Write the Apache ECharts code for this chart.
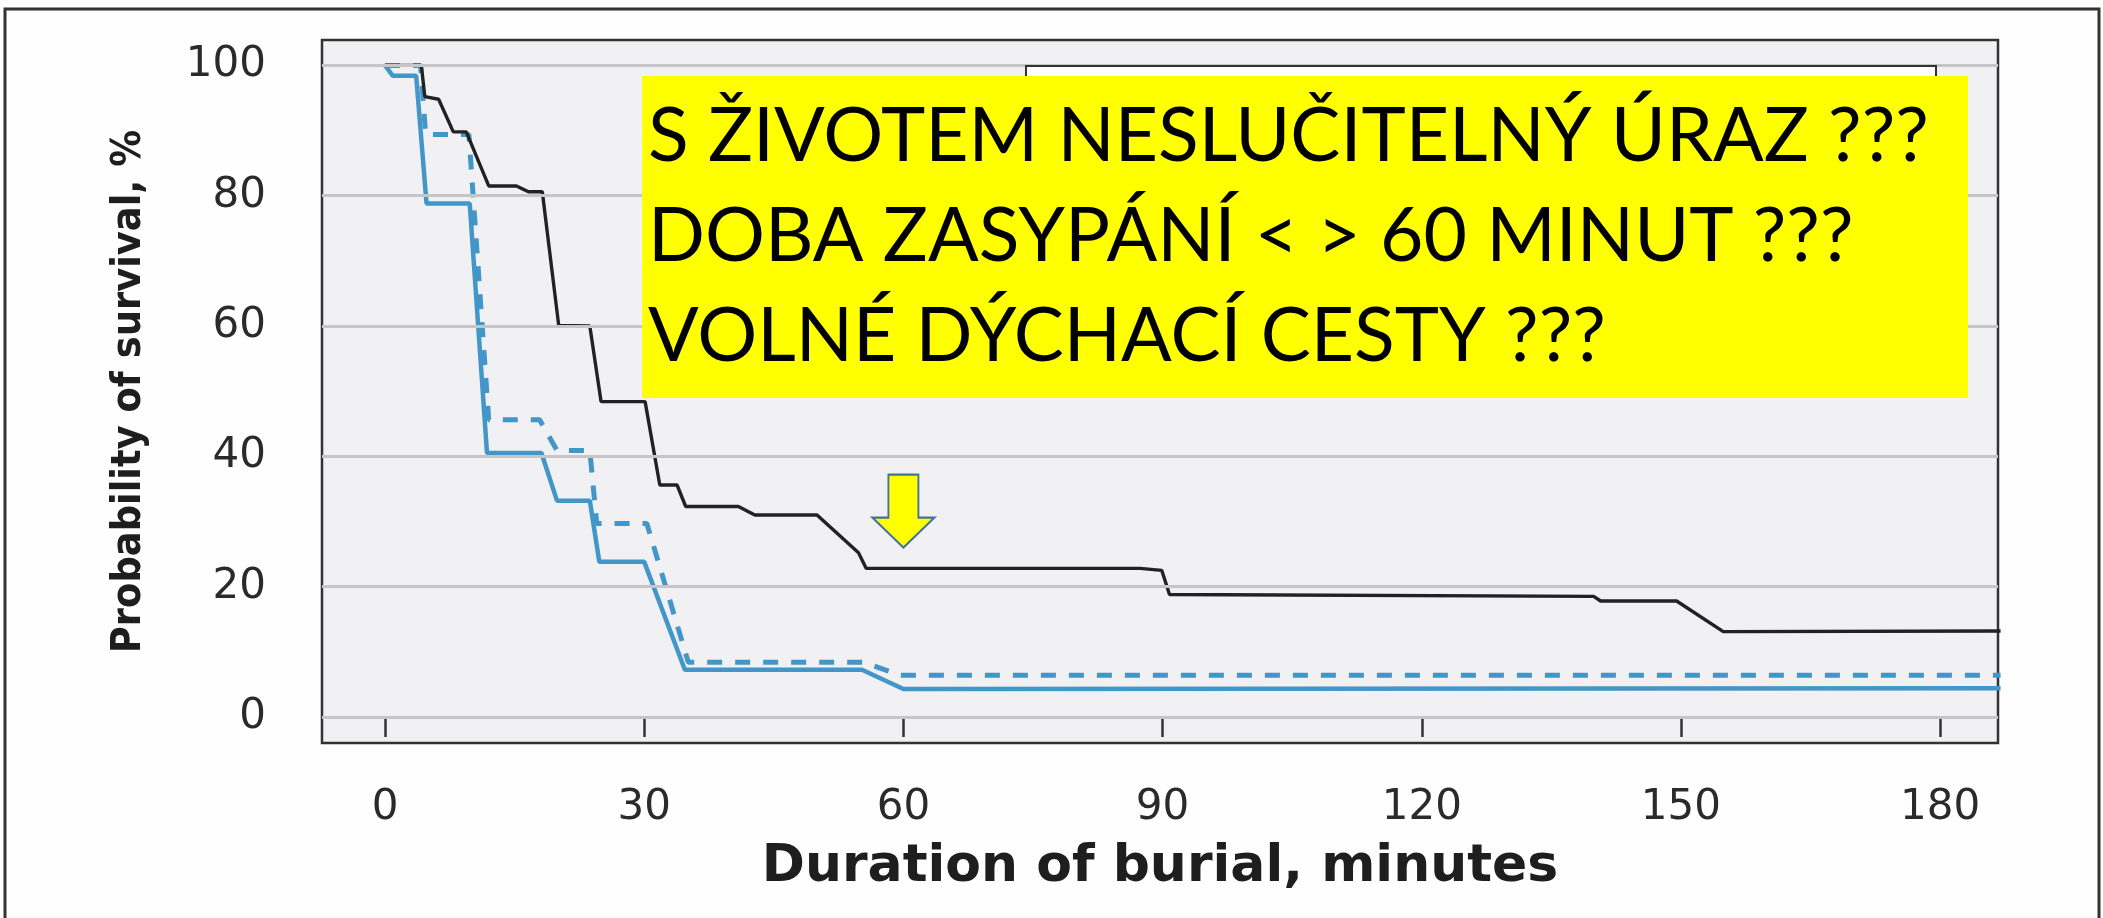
<!DOCTYPE html>
<html>
<head>
<meta charset="utf-8">
<title>Probability of survival vs duration of burial</title>
<script src="https://cdn.jsdelivr.net/npm/echarts@6.0.0/dist/echarts.min.js"></script>
<style>
  html, body { margin: 0; padding: 0; background: #fdfefd; }
  #chart { width: 2103px; height: 918px; }
</style>
</head>
<body>
<div id="chart"></div>
<script>
// axis ticks
const xTicks = [0, 30, 60, 90, 120, 150, 180];
const yTicks = [0, 20, 40, 60, 80, 100];

// black curve
const blackMin  = [0, 4.2, 4.6, 6.2, 7.9, 9.4, 12.0, 15.2, 16.6, 18.2, 20.1, 23.7, 25.0, 30.1, 31.8, 33.8, 34.8, 40.9, 42.8, 50.0, 54.8, 55.7, 87.4, 89.9, 90.8, 139.9, 140.7, 149.5, 154.9, 187];
const blackSurv = [100, 100, 95.2, 94.8, 89.8, 89.8, 81.5, 81.5, 80.6, 80.6, 60.1, 60.0, 48.4, 48.4, 35.6, 35.6, 32.3, 32.3, 31.0, 31.0, 25.2, 22.8, 22.8, 22.5, 18.8, 18.5, 17.8, 17.8, 13.1, 13.2];

// blue solid curve
const blueMin  = [0, 0.9, 3.6, 4.8, 9.8, 11.8, 18.1, 19.9, 23.7, 24.8, 30.0, 34.7, 55.2, 60.0, 187];
const blueSurv = [100, 98.4, 98.4, 78.8, 78.8, 40.5, 40.5, 33.2, 33.2, 23.8, 23.8, 7.25, 7.25, 4.3, 4.4];

// blue dashed curve
const dashMin  = [0, 4.1, 4.7, 9.7, 12.0, 17.9, 19.9, 23.7, 24.5, 30.3, 35.1, 55.4, 59.6, 187];
const dashSurv = [100, 100, 89.4, 89.4, 45.6, 45.6, 40.9, 40.9, 29.7, 29.7, 8.4, 8.4, 6.4, 6.4];

// yellow note + arrow
const noteLines = ['S ŽIVOTEM NESLUČITELNÝ ÚRAZ ???', 'DOBA ZASYPÁNÍ < > 60 MINUT ???', 'VOLNÉ DÝCHACÍ CESTY ???'];
const arrowAt = [60, 26];

const pairs = (xs, ys) => xs.map((x, i) => [x, ys[i]]);

const chart = echarts.init(document.getElementById('chart'), null, { renderer: 'canvas' });

const blue = '#4396c8';
const ink = '#222';

const noteTexts = noteLines.map((t, i) => ({
  type: 'text',
  z: 120,
  silent: true,
  x: 648,
  y: 137 + i * 100,
  style: {
    text: t,
    fill: '#000',
    font: '75px Lato, "Open Sans", sans-serif',
    textVerticalAlign: 'middle'
  }
}));

const option = {
  animation: false,
  backgroundColor: '#fdfefd',
  grid: {
    left: 322, right: 105, top: 40, bottom: 175,
    show: true,
    backgroundColor: '#f1f1f3',
    borderColor: '#333',
    borderWidth: 2.5
  },
  xAxis: {
    type: 'value',
    min: -7.3, max: 186.7,
    name: 'Duration of burial, minutes',
    nameLocation: 'middle',
    nameGap: 98,
    nameTextStyle: { fontFamily: 'DejaVu Sans', fontWeight: 'bold', fontSize: 52, color: '#1e1e1e' },
    axisLine: { show: false },
    axisTick: { show: true, inside: false, length: 20, customValues: xTicks, lineStyle: { color: '#333', width: 2.5 } },
    axisLabel: { customValues: xTicks, margin: 44, fontFamily: 'DejaVu Sans', fontSize: 42, color: '#2a2a2a' },
    splitLine: { show: false }
  },
  yAxis: {
    type: 'value',
    min: -4, max: 103.9,
    name: 'Probability of survival, %',
    nameLocation: 'middle',
    nameGap: 172,
    nameTextStyle: { fontFamily: '"Liberation Sans Narrow", "DejaVu Sans Condensed", "DejaVu Sans"', fontWeight: 'bold', fontSize: 41, color: '#1e1e1e' },
    axisLine: { show: false },
    axisTick: { show: true, inside: false, length: 27, customValues: yTicks, lineStyle: { color: '#333', width: 2.5 } },
    axisLabel: { customValues: yTicks, margin: 56, fontFamily: 'DejaVu Sans', fontSize: 42, color: '#2a2a2a' },
    splitLine: { show: false }
  },
  series: [
    {
      // horizontal grid lines
      type: 'line',
      z: 1,
      data: [],
      silent: true,
      markLine: {
        silent: true,
        symbol: 'none',
        label: { show: false },
        lineStyle: { color: '#c6c6c8', width: 3, type: 'solid' },
        data: yTicks.map(v => ({ yAxis: v }))
      }
    },
    {
      name: 'black',
      type: 'line',
      z: 4,
      data: pairs(blackMin, blackSurv),
      symbol: 'none',
      clip: true,
      lineStyle: { color: ink, width: 3.4 },
      markPoint: {
        silent: true,
        symbol: 'path://M16,0 L46,0 L46,43 L62,43 L31,73 L0,43 L16,43 Z',
        symbolSize: [62, 73],
        symbolOffset: [0, '-50%'],
        itemStyle: { color: '#ffff00', borderColor: '#41719c', borderWidth: 2 },
        label: { show: false },
        data: [{ coord: arrowAt }]
      }
    },
    {
      name: 'blue dashed',
      type: 'line',
      z: 3,
      data: pairs(dashMin, dashSurv),
      symbol: 'none',
      clip: true,
      lineStyle: { color: blue, width: 5, type: [15, 13] }
    },
    {
      name: 'blue',
      type: 'line',
      z: 3,
      data: pairs(blueMin, blueSurv),
      symbol: 'none',
      clip: true,
      lineStyle: { color: blue, width: 4.5 }
    }
  ],
  graphic: [
    {
      // outer frame
      type: 'rect', z: 50, silent: true,
      shape: { x: 5, y: 9, width: 2094, height: 930 },
      style: { fill: 'none', stroke: '#333', lineWidth: 3 }
    },
    {
      // leftover legend box
      type: 'rect', z: 90, silent: true,
      shape: { x: 1026, y: 66, width: 910, height: 60 },
      style: { fill: '#ffffff', stroke: '#333', lineWidth: 2 }
    },
    {
      type: 'rect', z: 100, silent: true,
      shape: { x: 642, y: 76, width: 1326, height: 322 },
      style: { fill: '#ffff00' }
    }
  ].concat(noteTexts)
};

chart.setOption(option);
</script>
</body>
</html>
